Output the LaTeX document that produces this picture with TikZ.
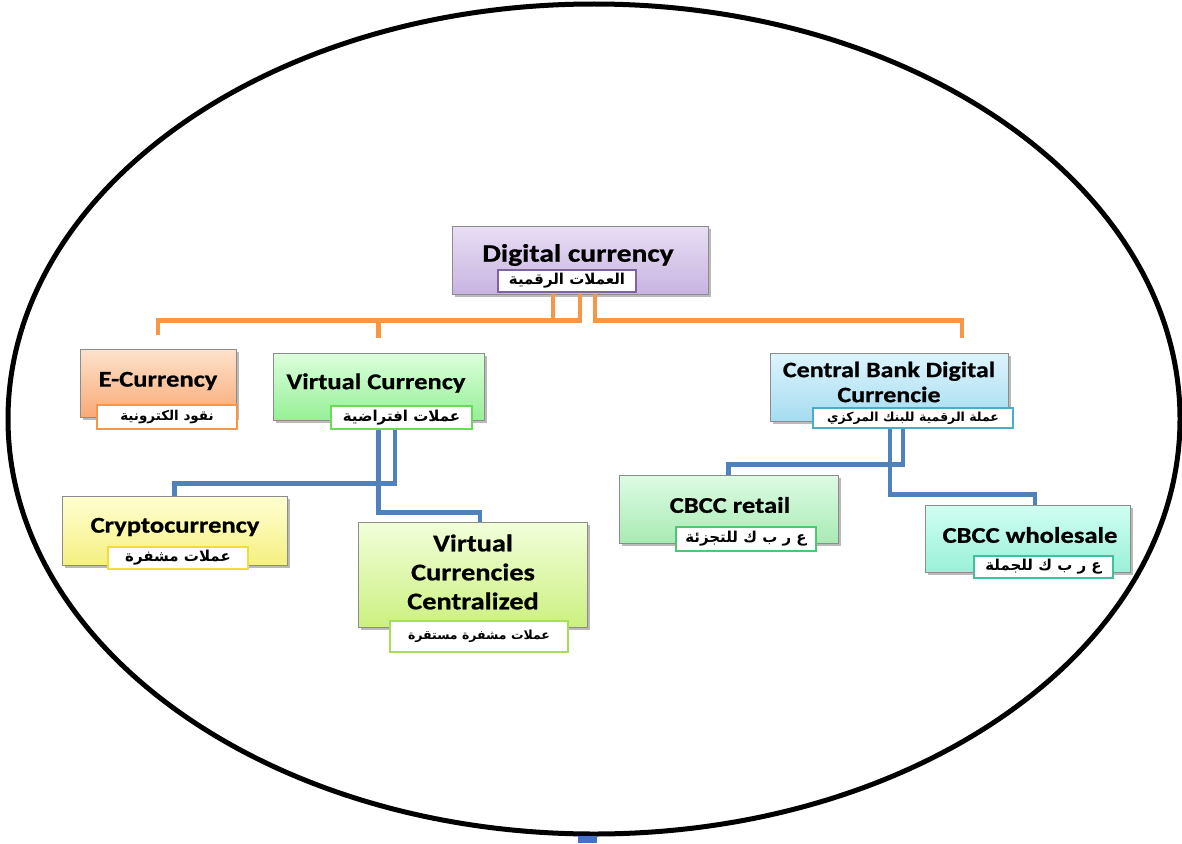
\documentclass[tikz,border=0pt]{standalone}
\usepackage{fontspec}
\setmainfont{Carlito}
\newfontfamily\ttlfont{Carlito}[FakeStretch=1.18, BoldFeatures={FakeBold=0.8}]
\newfontfamily\arabicfont[Script=Arabic]{DejaVu Sans}
\TeXXeTstate=1
\usetikzlibrary{shadows}
\definecolor{ocol}{HTML}{F79646}
\definecolor{bcol}{HTML}{4F81BD}
\definecolor{boxline}{HTML}{8C8C8C}
\tikzset{
  box/.style={draw=boxline, line width=0.8pt, inner sep=0pt,
    drop shadow={shadow xshift=3pt, shadow yshift=-3pt, opacity=0.45, fill=black!60}},
  ttl/.style={font=\ttlfont\bfseries\fontsize{22.5}{25}\selectfont, align=center, inner sep=0pt},
  lbl/.style={fill=white, line width=2.2pt, inner sep=0pt, font=\arabicfont\bfseries\fontsize{15}{17}\selectfont},
  oc/.style={draw=ocol, line width=4.5pt},
  bc/.style={draw=bcol, line width=4.5pt},
}
\begin{document}
\begin{tikzpicture}[x=1pt,y=-1pt]
\useasboundingbox (0,0) rectangle (1182,843);
\draw[line width=5pt] (594,419) ellipse [x radius=586, y radius=415];
\fill[fill={rgb,255:red,68;green,114;blue,196}] (578,836) rectangle (597,843);

% main boxes
\node[box, top color={rgb,255:red,232;green,222;blue,244}, bottom color={rgb,255:red,200;green,180;blue,225}, minimum width=256pt, minimum height=68pt] (dig) at (580,260) {};
\node[box, top color={rgb,255:red,253;green,226;blue,204}, bottom color={rgb,255:red,249;green,170;blue,118}, minimum width=156pt, minimum height=68pt] (ecur) at (158,383) {};
\node[box, top color={rgb,255:red,220;green,255;blue,220}, bottom color={rgb,255:red,150;green,240;blue,150}, minimum width=211pt, minimum height=67pt] (vc) at (378.5,386.5) {};
\node[box, top color={rgb,255:red,222;green,244;blue,252}, bottom color={rgb,255:red,165;green,220;blue,240}, minimum width=238pt, minimum height=68pt] (cbdc) at (889,387) {};
\node[box, top color={rgb,255:red,255;green,255;blue,210}, bottom color={rgb,255:red,245;green,240;blue,128}, minimum width=225pt, minimum height=69pt] (crypto) at (174.5,530.5) {};
\node[box, top color={rgb,255:red,242;green,255;blue,218}, bottom color={rgb,255:red,204;green,240;blue,128}, minimum width=229pt, minimum height=105pt] (vcc) at (472.5,574.5) {};
\node[box, top color={rgb,255:red,222;green,251;blue,228}, bottom color={rgb,255:red,168;green,235;blue,180}, minimum width=219pt, minimum height=68pt] (retail) at (728.5,509) {};
\node[box, top color={rgb,255:red,208;green,255;blue,242}, bottom color={rgb,255:red,154;green,240;blue,216}, minimum width=205pt, minimum height=67pt] (whole) at (1027.5,538.5) {};

% titles
\node[ttl, font=\ttlfont\bfseries\fontsize{25}{28}\selectfont] (digT) at (578,255) {Digital currency};
\node[ttl] (ecurT) at (158,381) {E-Currency};
\node[ttl] (vcT) at (376,383) {Virtual Currency};
\node[ttl, font=\ttlfont\bfseries\fontsize{22}{25}\selectfont] (cbdcT) at (889,382) {Central Bank Digital\\Currencie};
\node[ttl] (cryptoT) at (175,527) {Cryptocurrency};
\node[ttl, font=\ttlfont\bfseries\fontsize{24}{29}\selectfont] (vccT) at (473,572) {Virtual\\Currencies\\Centralized};
\node[ttl] (retailT) at (730,505) {CBCC retail};
\node[ttl] (wholeT) at (1030,535) {CBCC wholesale};

% orange connectors
\draw[oc] ([xshift=-27pt]dig.south) -- ++(0,26) -| ([yshift=14pt]ecur.north);
\draw[oc] (dig.south) -- ++(0,26) -| ([yshift=15pt]vc.north);
\draw[oc] ([xshift=15pt]dig.south) -- ++(0,26) -| ([xshift=73pt,yshift=15pt]cbdc.north);

% blue connectors
\draw[bc] ([xshift=16.5pt]vc.south) -- ++(0,63) -| (crypto.north);
\draw[bc] (vc.south) -- ++(0,92) -| ([xshift=7.5pt]vcc.north);
\draw[bc] ([xshift=14pt]cbdc.south) -- ++(0,43) -| (retail.north);
\draw[bc] ([xshift=1pt]cbdc.south) -- ++(0,73) -| ([xshift=7.5pt]whole.north);

% arabic labels
\node[lbl, draw={rgb,255:red,128;green,100;blue,162}, minimum width=138pt, minimum height=22pt] (digL) at (567,281) {\beginR العملات الرقمية\endR};
\node[lbl, draw=ocol, minimum width=140pt, minimum height=24pt, font=\arabicfont\bfseries\fontsize{13.5}{15}\selectfont] (ecurL) at (167,417) {\beginR نقود الكترونية\endR};
\node[lbl, draw={rgb,255:red,102;green,221;blue,85}, minimum width=141pt, minimum height=23pt] (vcL) at (401.5,417.5) {\beginR عملات افتراضية\endR};
\node[lbl, draw={rgb,255:red,75;green,172;blue,198}, minimum width=200pt, minimum height=20pt, font=\arabicfont\bfseries\fontsize{12.5}{14}\selectfont] (cbdcL) at (913,418) {\beginR عملة الرقمية للبنك المركزي\endR};
\node[lbl, draw={rgb,255:red,240;green,220;blue,60}, minimum width=140pt, minimum height=22pt] (cryptoL) at (178,558) {\beginR عملات مشفرة\endR};
\node[lbl, draw={rgb,255:red,166;green,224;blue,90}, minimum width=178pt, minimum height=31pt, font=\arabicfont\bfseries\fontsize{12.5}{14}\selectfont] (vccL) at (479,636.5) {\beginR عملات مشفرة مستقرة\endR};
\node[lbl, draw={rgb,255:red,76;green,200;blue,112}, minimum width=140pt, minimum height=24pt] (retailL) at (746,539) {\beginR ع ر ب ك للتجزئة\endR};
\node[lbl, draw={rgb,255:red,64;green,192;blue,160}, minimum width=139pt, minimum height=22pt] (wholeL) at (1043.5,567) {\beginR ع ر ب ك للجملة\endR};
\end{tikzpicture}
\end{document}
